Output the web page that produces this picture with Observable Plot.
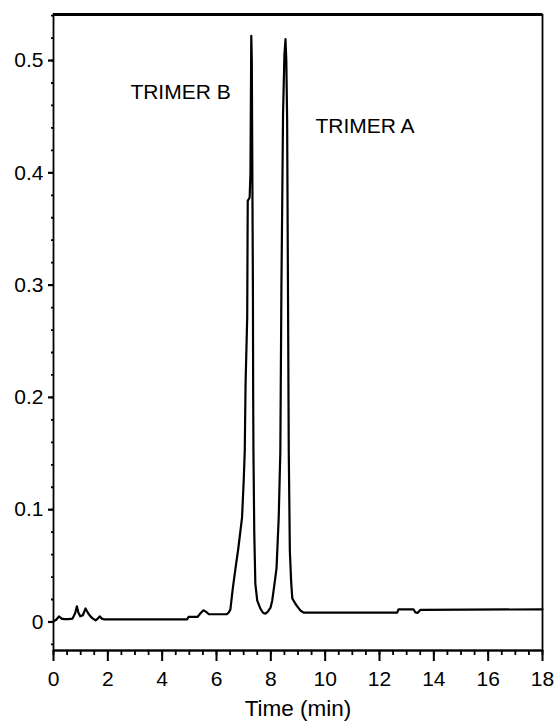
<!DOCTYPE html>
<html>
<head>
<meta charset="utf-8">
<script src="https://cdn.jsdelivr.net/npm/d3@7"></script>
<script src="https://cdn.jsdelivr.net/npm/@observablehq/plot@0.6"></script>
<style>
  html, body { margin: 0; padding: 0; background: #fff; }
  #chart svg { display: block; }
</style>
</head>
<body>
<div id="chart"></div>
<script>
// Chromatogram trace: time (min) and detector response
const time = [
  0.00, 0.10, 0.20, 0.30, 0.38, 0.55, 0.70, 0.80, 0.86, 0.92, 0.99, 1.08, 1.18, 1.27, 1.36, 1.45,
  1.55, 1.63, 1.70, 1.78, 1.85, 4.92, 4.97, 5.30, 5.42, 5.52, 5.62, 5.72, 6.38, 6.45, 6.51, 6.60,
  6.70, 6.80, 6.94, 7.00, 7.04, 7.07, 7.13, 7.15, 7.22, 7.25, 7.28, 7.30, 7.31, 7.34, 7.35, 7.36,
  7.39, 7.43, 7.50, 7.62, 7.72, 7.80, 7.88, 7.99, 8.05, 8.13, 8.21, 8.29, 8.35, 8.39, 8.42, 8.45,
  8.50, 8.54, 8.57, 8.60, 8.63, 8.66, 8.70, 8.75, 8.79, 8.91, 9.00, 9.10, 9.21, 12.65, 12.70, 13.25,
  13.32, 13.40, 13.50, 18.00
];
const response = [
  0.0005, 0.002, 0.005, 0.003, 0.0025, 0.0025, 0.003, 0.008, 0.014, 0.008, 0.005, 0.006, 0.012, 0.008, 0.005, 0.003,
  0.0015, 0.003, 0.005, 0.003, 0.0024, 0.0024, 0.0045, 0.0045, 0.008, 0.0104, 0.009, 0.0069, 0.0069, 0.0085, 0.011, 0.030,
  0.048, 0.065, 0.093, 0.125, 0.152, 0.212, 0.271, 0.375, 0.378, 0.400, 0.522, 0.500, 0.447, 0.300, 0.200, 0.152,
  0.080, 0.034, 0.019, 0.0116, 0.008, 0.0074, 0.009, 0.0128, 0.019, 0.033, 0.048, 0.093, 0.152, 0.300, 0.375, 0.453,
  0.505, 0.519, 0.500, 0.447, 0.300, 0.152, 0.063, 0.035, 0.021, 0.016, 0.013, 0.010, 0.0083, 0.0083, 0.0113, 0.0113,
  0.0085, 0.008, 0.0107, 0.0113
];

// Axes
const xDomain = [0, 18];
const yDomain = [-0.0254, 0.541];
const xMajorTicks = [0, 2, 4, 6, 8, 10, 12, 14, 16, 18];
const xMinorTicks = d3.range(0, 18.01, 0.5);
const yMajorTicks = [0, 0.1, 0.2, 0.3, 0.4, 0.5];
const yMinorTicks = d3.range(-0.02, 0.541, 0.02);
const xTitle = "Time (min)";

// Peak labels
const peakLabels = ["TRIMER B", "TRIMER A"];
const peakLabelX = [2.83, 9.64];
const peakLabelY = [0.472, 0.4416];

const trace = time.map((t, i) => ({t, v: response[i]}));
const labels = peakLabels.map((text, i) => ({text, x: peakLabelX[i], y: peakLabelY[i]}));

const font = "'Liberation Sans', Arial, Helvetica, sans-serif";

const chart = Plot.plot({
  width: 558,
  height: 723,
  marginLeft: 53,
  marginRight: 16,
  marginTop: 14,
  marginBottom: 73,
  style: {fontFamily: font, fontSize: "21px", color: "#000", background: "#fff"},
  x: {domain: xDomain},
  y: {domain: yDomain},
  marks: [
    Plot.frame({stroke: "#000", strokeWidth: 1.8}),
    Plot.ruleY([yDomain[1]], {stroke: "#000", strokeWidth: 3}),
    Plot.ruleY([yDomain[0]], {stroke: "#000", strokeWidth: 2.2}),
    Plot.line(trace, {x: "t", y: "v", stroke: "#000", strokeWidth: 2.2, strokeLinejoin: "round"}),
    Plot.axisX({ticks: xMinorTicks, tickSize: 5, tickFormat: null, text: null, label: null, strokeWidth: 1.8}),
    Plot.axisX({ticks: xMajorTicks, tickSize: 11, tickPadding: 10, tickFormat: d => String(d), label: null, strokeWidth: 2, fontSize: 21}),
    Plot.axisY({ticks: yMinorTicks, tickSize: 2, text: null, label: null, strokeWidth: 1.8}),
    Plot.axisY({ticks: yMajorTicks, tickSize: 5, tickPadding: 5, tickFormat: d => d === 0 ? "0" : d3.format(".1f")(d), label: null, strokeWidth: 2.2, fontSize: 21}),
    Plot.text([xTitle], {frameAnchor: "bottom", dy: 58, lineAnchor: "middle", fontSize: 22.5, fill: "#000"}),
    Plot.text(labels, {x: "x", y: "y", text: "text", textAnchor: "start", lineAnchor: "middle", fontSize: 21, fill: "#000"})
  ]
});

document.getElementById("chart").appendChild(chart);
</script>
</body>
</html>
